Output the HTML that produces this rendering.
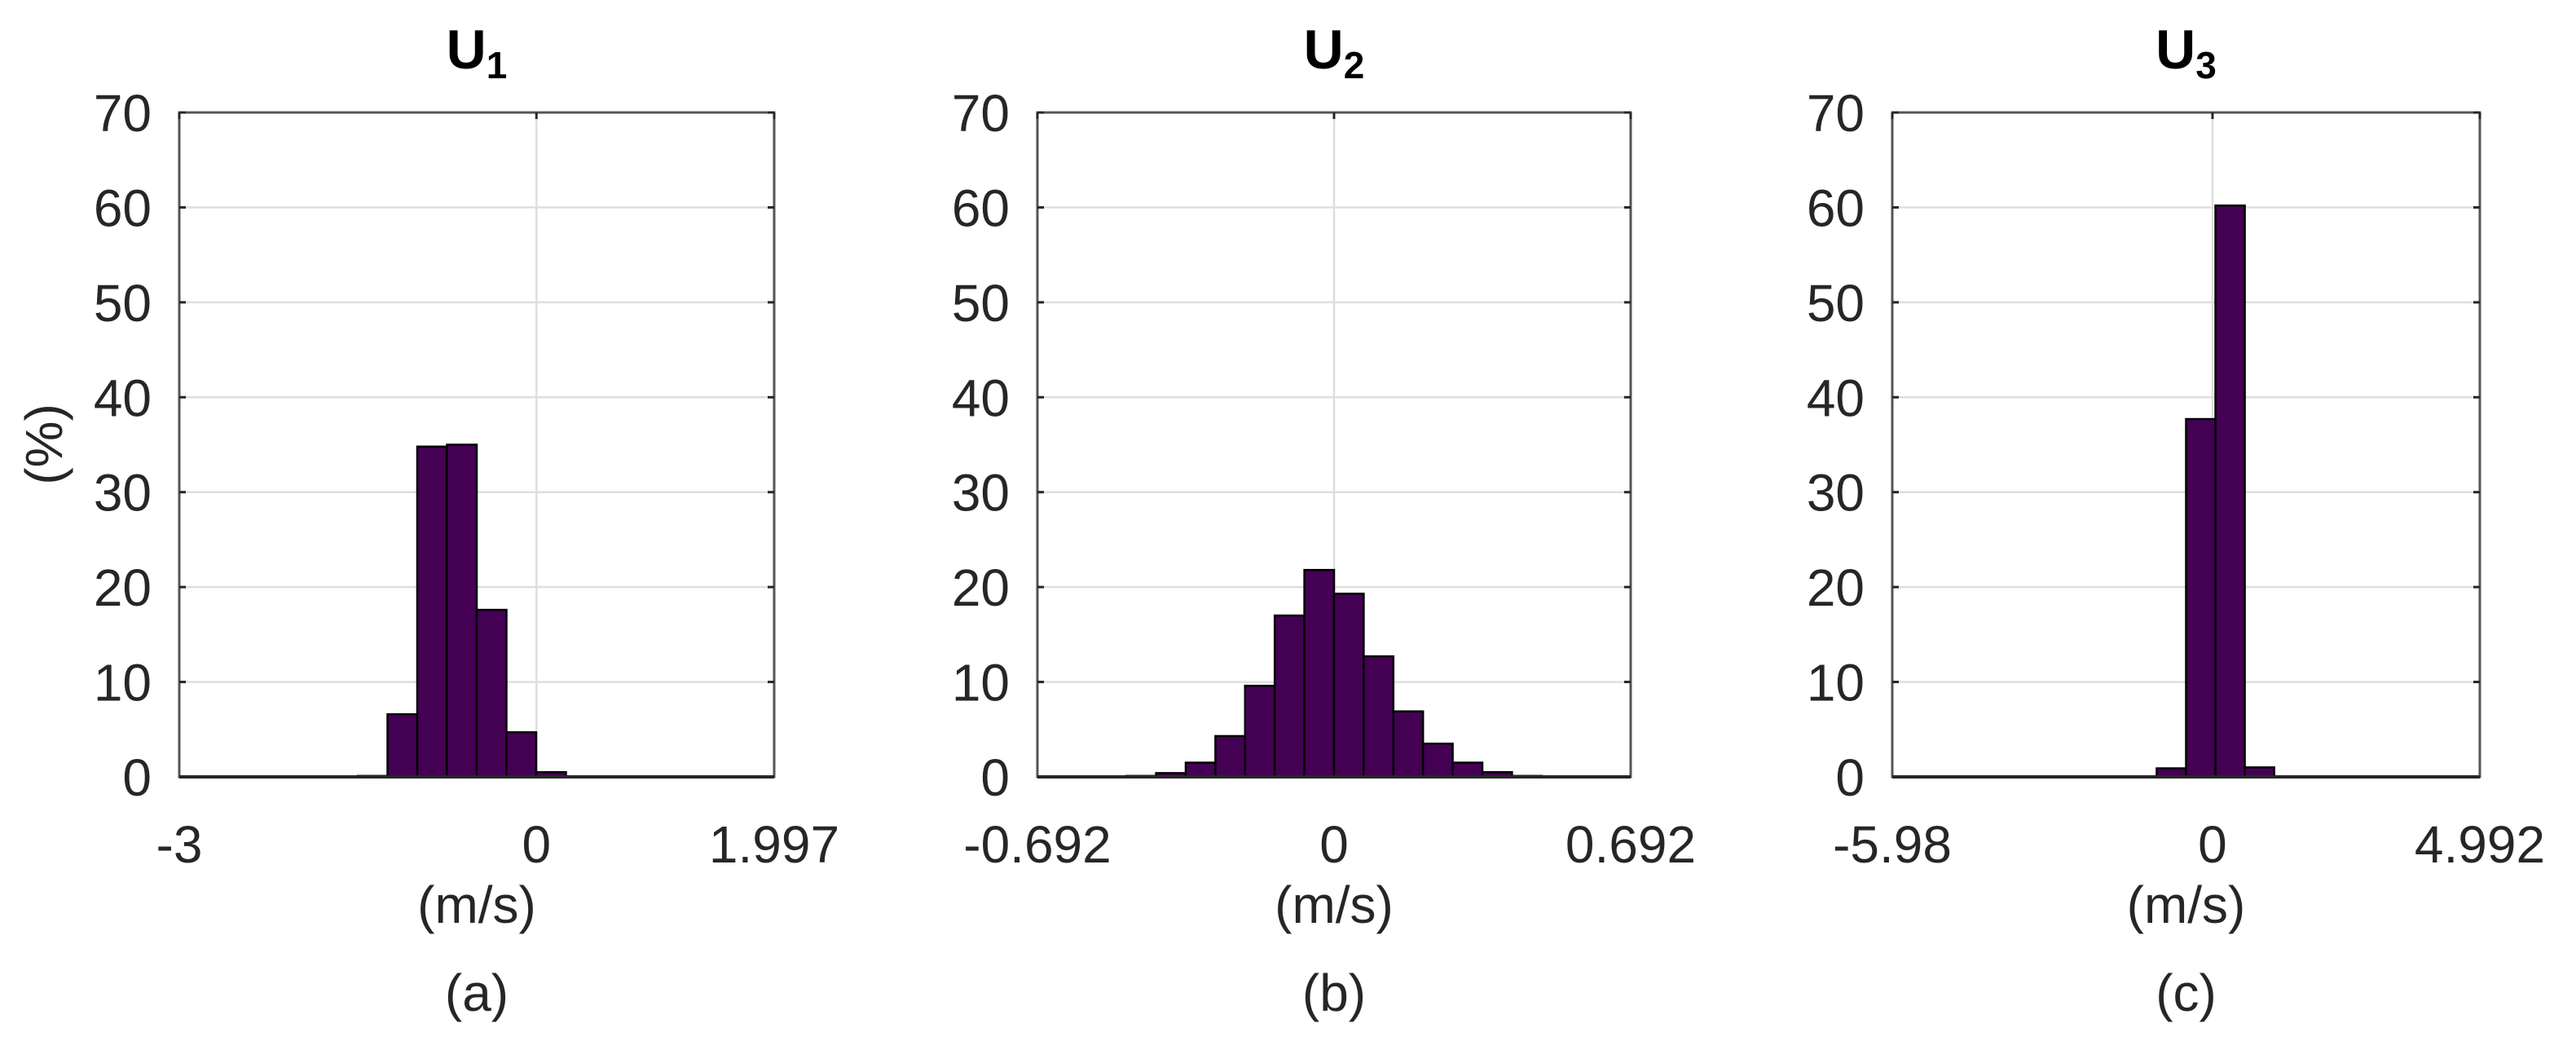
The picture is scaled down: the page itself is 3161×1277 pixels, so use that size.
<!DOCTYPE html>
<html><head><meta charset="utf-8"><style>
html,body{margin:0;padding:0;background:#fff;}
svg{display:block;font-family:"Liberation Sans",Arial,sans-serif;}
</style></head>
<body>
<svg id="fig" width="3161" height="1277" viewBox="0 0 3161 1277" xmlns="http://www.w3.org/2000/svg"></svg>
<script>
// Panel (a) U1
const u1Range = [-3, 1.997];
const u1Values = [0.02,0.02,0.02,0.02,0.03,0.05,0.1,6.6,34.8,35.0,17.6,4.7,0.5,0.05,0.03,0.02,0.02,0.02,0.02,0.02];
const u1Ticks = ["-3","0","1.997"];
const u1TickVals = [-3,0,1.997];
// Panel (b) U2
const u2Range = [-0.692, 0.692];
const u2Values = [0.01,0.02,0.05,0.1,0.4,1.5,4.3,9.6,17,21.8,19.3,12.7,6.9,3.5,1.5,0.5,0.1,0.05,0.02,0.01];
const u2Ticks = ["-0.692","0","0.692"];
const u2TickVals = [-0.692,0,0.692];
// Panel (c) U3
const u3Range = [-5.98, 4.992];
const u3Values = [0.02,0.02,0.02,0.02,0.02,0.03,0.03,0.04,0.05,0.9,37.7,60.2,1.0,0.05,0.04,0.03,0.02,0.02,0.02,0.02];
const u3Ticks = ["-5.98","0","4.992"];
const u3TickVals = [-5.98,0,4.992];
const yTicks = [0,10,20,30,40,50,60,70];

const NS = "http://www.w3.org/2000/svg";
const svg = document.getElementById('fig');
function mk(tag, attrs, parent){
  const e = document.createElementNS(NS, tag);
  for (const k in attrs) e.setAttribute(k, attrs[k]);
  (parent||svg).appendChild(e);
  return e;
}
const Y0 = 953, Y70 = 138;
function ys(v){ return Y0 - (v/70)*(Y0-Y70); }

const panels = [
  {key:'u1', left:220, right:950, range:u1Range, vals:u1Values, ticks:u1Ticks, tv:u1TickVals, sub:'1', cap:'(a)'},
  {key:'u2', left:1273, right:2001, range:u2Range, vals:u2Values, ticks:u2Ticks, tv:u2TickVals, sub:'2', cap:'(b)'},
  {key:'u3', left:2322, right:3043, range:u3Range, vals:u3Values, ticks:u3Ticks, tv:u3TickVals, sub:'3', cap:'(c)'}
];

panels.forEach((p, pi) => {
  const g = mk('g', {});
  
  
  const xs = v => p.left + (v - p.range[0])/(p.range[1]-p.range[0])*(p.right-p.left);
  const cx = (p.left+p.right)/2;
  yTicks.forEach(t => {
    if (t===0 || t===70) return;
    const l = mk('line', {x1:p.left, x2:p.right, y1:ys(t), y2:ys(t), stroke:'#dedede', 'stroke-width':2.5}, g);
    
    
  });
  const vg = mk('line', {x1:xs(0), x2:xs(0), y1:Y70, y2:Y0, stroke:'#dedede', 'stroke-width':2.5}, g);
  
  
  const n = p.vals.length, w = (p.range[1]-p.range[0])/n;
  p.vals.forEach((v, i) => {
    const x1 = xs(p.range[0]+i*w), x2 = xs(p.range[0]+(i+1)*w);
    const r = mk('rect', {x:x1, y:ys(v), width:x2-x1, height:Y0-ys(v), fill:'#440154', stroke:'#000', 'stroke-width':2.5}, g);
    
    
  });
  const box = mk('rect', {x:p.left, y:Y70, width:p.right-p.left, height:Y0-Y70, fill:'none', stroke:'#555', 'stroke-width':3}, g);
  
  
  const base = mk('line', {x1:p.left, x2:p.right, y1:Y0, y2:Y0, stroke:'#262626', 'stroke-width':4}, g);
  
  
  yTicks.forEach(t => {
    mk('line', {x1:p.left, x2:p.left+8, y1:ys(t), y2:ys(t), stroke:'#262626', 'stroke-width':3}, g);
    mk('line', {x1:p.right-8, x2:p.right, y1:ys(t), y2:ys(t), stroke:'#262626', 'stroke-width':3}, g);
    const tx = mk('text', {x:p.left-34, y:ys(t)+23, 'text-anchor':'end', 'font-size':64, fill:'#262626'}, g);
    tx.textContent = t;
    
    
  });
  p.tv.forEach((v, i) => {
    mk('line', {x1:xs(v), x2:xs(v), y1:Y70, y2:Y70+8, stroke:'#262626', 'stroke-width':3}, g);
    const tx = mk('text', {x:xs(v), y:1058, 'text-anchor':'middle', 'font-size':64, fill:'#262626'}, g);
    tx.textContent = p.ticks[i];
    
    
  });
  const ti = mk('text', {x:cx, y:84, 'text-anchor':'middle', 'font-size':68, 'font-weight':'bold', fill:'#000'}, g);
  
  
  ti.appendChild(document.createTextNode('U'));
  const sub = mk('tspan', {'font-size':46, dy:12}, ti);
  sub.textContent = p.sub;
  const xl = mk('text', {x:cx, y:1132, 'text-anchor':'middle', 'font-size':64, fill:'#262626'}, g);
  xl.textContent = '(m/s)';
  
  
  const cp = mk('text', {x:cx, y:1240, 'text-anchor':'middle', 'font-size':64, fill:'#262626'}, g);
  cp.textContent = p.cap;
  
  
  if (pi === 0) {
    const yl = mk('text', {x:0, y:0, 'text-anchor':'middle', 'font-size':64, fill:'#262626', transform:'translate(76,545) rotate(-90)'}, g);
    yl.textContent = '(%)';
    
    
  }
});
</script>
</body></html>
